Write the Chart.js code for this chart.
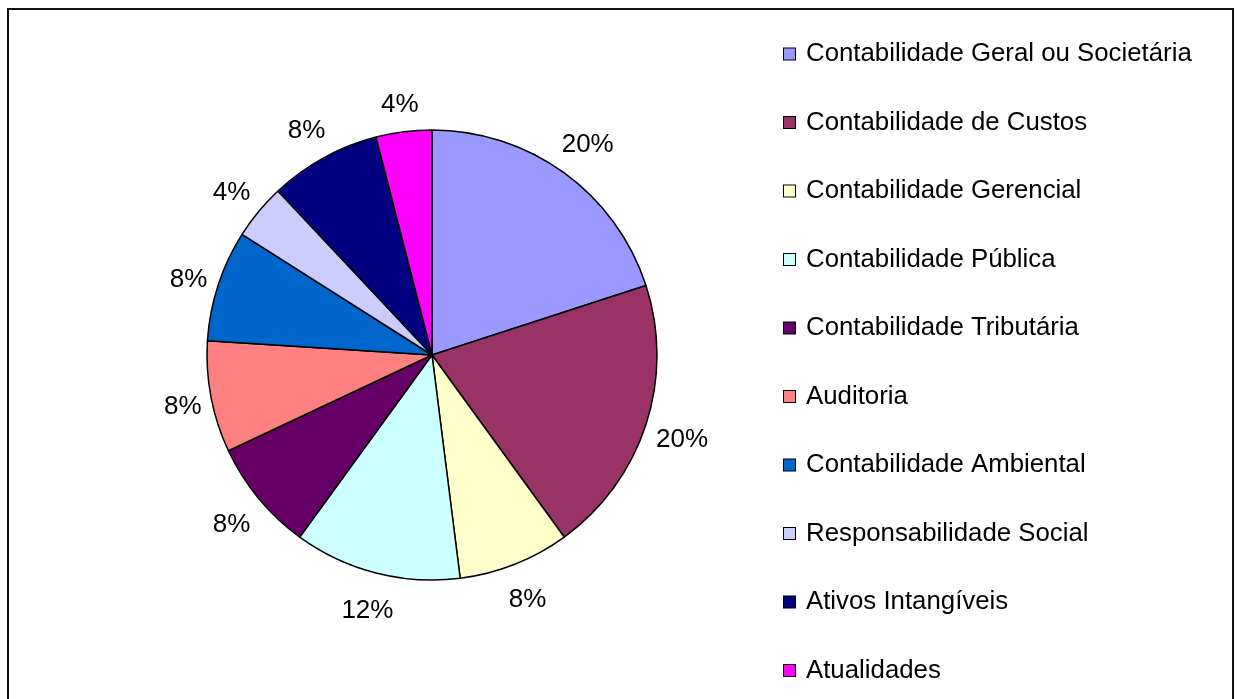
<!DOCTYPE html>
<html>
<head>
<meta charset="utf-8">
<script src="https://cdn.jsdelivr.net/npm/chart.js@4.4.1/dist/chart.umd.min.js"></script>
<style>
  html, body { margin: 0; padding: 0; background: #fff; }
  #wrap { width: 1237px; height: 699px; position: relative; }
</style>
</head>
<body>
<div id="wrap"><canvas id="grafico" width="1237" height="699"></canvas></div>
<script>
// Dados do gráfico
const categorias = [
  'Contabilidade Geral ou Societária',
  'Contabilidade de Custos',
  'Contabilidade Gerencial',
  'Contabilidade Pública',
  'Contabilidade Tributária',
  'Auditoria',
  'Contabilidade Ambiental',
  'Responsabilidade Social',
  'Ativos Intangíveis',
  'Atualidades'
];
const percentuais = [20, 20, 8, 12, 8, 8, 8, 4, 8, 4];
const cores = [
  '#9999FF', '#993366', '#FFFFCC', '#CCFFFF', '#660066',
  '#FF8080', '#0066CC', '#CCCCFF', '#000080', '#FF00FF'
];

const FONTE = '26px "Liberation Sans", Arial, sans-serif';
const FONTE_LEGENDA = '25.8px "Liberation Sans", Arial, sans-serif';

// Moldura externa do gráfico
const moldura = {
  id: 'moldura',
  afterDraw(chart) {
    const ctx = chart.ctx;
    ctx.save();
    ctx.strokeStyle = '#111';
    ctx.lineWidth = 2;
    ctx.strokeRect(8, 9, 1225, 700);
    ctx.restore();
  }
};

// Rótulos de porcentagem fora das fatias
const rotulos = {
  id: 'rotulos',
  afterDatasetsDraw(chart) {
    const ctx = chart.ctx;
    const meta = chart.getDatasetMeta(0);
    const total = percentuais.reduce((a, b) => a + b, 0);
    ctx.save();
    ctx.font = FONTE;
    ctx.fillStyle = '#000';
    ctx.textAlign = 'center';
    ctx.textBaseline = 'middle';
    meta.data.forEach((arc, i) => {
      const { startAngle, endAngle, x, y, outerRadius } =
        arc.getProps(['startAngle', 'endAngle', 'x', 'y', 'outerRadius'], true);
      const meio = (startAngle + endAngle) / 2;
      const dx = Math.cos(meio);
      const dy = Math.sin(meio);
      const texto = Math.round(percentuais[i] / total * 100) + '%';
      const w = ctx.measureText(texto).width;
      const dist = outerRadius + 6 + Math.abs(dx) * w / 2 + Math.abs(dy) * 23;
      ctx.fillText(texto, x + dx * dist, y + dy * dist + 4);
    });
    ctx.restore();
  }
};

// Legenda desenhada à direita
const legenda = {
  id: 'legenda',
  afterDraw(chart) {
    const ctx = chart.ctx;
    ctx.save();
    ctx.font = FONTE_LEGENDA;
    ctx.textBaseline = 'middle';
    ctx.textAlign = 'left';
    categorias.forEach((nome, i) => {
      const yc = 54 + i * 68.5;
      ctx.fillStyle = cores[i];
      ctx.fillRect(783.5, yc - 6, 12, 12);
      ctx.strokeStyle = '#000';
      ctx.lineWidth = 1;
      ctx.strokeRect(783.5, yc - 6, 12, 12);
      ctx.fillStyle = '#000';
      ctx.fillText(nome, 806, yc);
    });
    ctx.restore();
  }
};

const ctx = document.getElementById('grafico').getContext('2d');
new Chart(ctx, {
  type: 'pie',
  data: {
    labels: categorias,
    datasets: [{
      data: percentuais,
      backgroundColor: cores,
      borderColor: '#000',
      borderWidth: 1.5,
      hoverOffset: 0,
      radius: 225
    }]
  },
  options: {
    responsive: false,
    animation: false,
    events: [],
    layout: {
      padding: { left: 182, right: 555, top: 105, bottom: 94 }
    },
    plugins: {
      legend: { display: false },
      tooltip: { enabled: false }
    }
  },
  plugins: [rotulos, legenda, moldura]
});
</script>
</body>
</html>
